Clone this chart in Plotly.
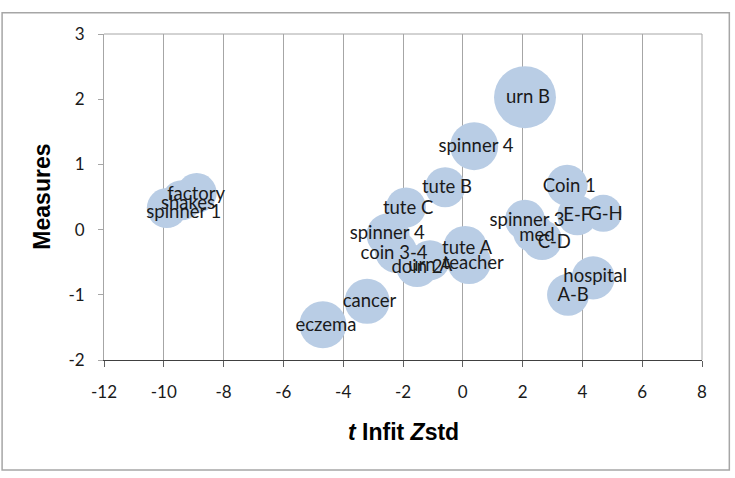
import plotly.graph_objects as go

# Item labels
items = ["spinner 1", "shakes", "factory", "eczema", "cancer", "spinner 4",
         "tute C", "coin 3-4", "doin 2", "urn A", "tute B", "tute A", "teacher",
         "spinner 4", "urn B", "spinner 3", "med", "C-D", "Coin 1", "E-F",
         "G-H", "hospital", "A-B"]
# t Infit Zstd
infit_z = [-9.90, -9.40, -8.90, -4.68, -3.20, -2.50, -1.90, -2.23, -1.53, -1.10,
           -0.59, 0.08, 0.21, 0.38, 2.08, 2.08, 2.35, 2.65, 3.49, 3.83, 4.70,
           4.36, 3.52]
# Measures
measures = [0.33, 0.45, 0.56, -1.46, -1.10, -0.08, 0.34, -0.34, -0.56, -0.47,
            0.65, -0.28, -0.50, 1.28, 2.03, 0.15, -0.04, -0.16, 0.68, 0.22,
            0.25, -0.74, -1.00]
# bubble size variable
bubble = [1.0, 1.0, 1.0, 1.38, 1.27, 1.16, 1.0, 1.1, 1.1, 1.0, 1.0, 1.2, 1.2,
          1.44, 2.4, 1.0, 1.0, 1.0, 1.05, 1.0, 0.86, 1.16, 1.1]
# data label anchor positions (as placed in the chart)
label_x = [-9.33, -9.19, -8.92, -4.58, -3.12, -2.53, -1.83, -2.30, -1.53, -1.09,
           -0.53, 0.14, 0.35, 0.44, 2.18, 2.15, 2.48, 3.06, 3.56, 3.83, 4.77,
           4.43, 3.69]
label_y = [0.25, 0.39, 0.53, -1.49, -1.11, -0.07, 0.31, -0.38, -0.59, -0.56,
           0.63, -0.30, -0.53, 1.26, 2.01, 0.12, -0.10, -0.21, 0.64, 0.21, 0.22,
           -0.74, -1.02]

x_ticks = list(range(-12, 9, 2))
x_ticktext = [str(v) for v in x_ticks]
y_ticks = list(range(-2, 4, 1))
y_ticktext = [str(v) for v in y_ticks]

fig = go.Figure()
fig.add_trace(go.Scatter(
    x=infit_z, y=measures, mode="markers",
    marker=dict(size=bubble, sizemode="area", sizeref=1 / 800,
                color="#B9CDE5", opacity=1, line=dict(width=0)),
    hoverinfo="skip", showlegend=False))
fig.add_trace(go.Scatter(
    x=label_x, y=label_y, mode="text", text=items,
    textposition="middle center",
    textfont=dict(family="Lato", size=18.5, color="#1a1a1a"),
    hoverinfo="skip", showlegend=False))

fig.update_layout(
    width=735, height=478,
    margin=dict(l=104, r=33, t=34, b=118),
    paper_bgcolor="white", plot_bgcolor="white",
    xaxis=dict(range=[-12, 8], tickvals=x_ticks, ticktext=x_ticktext,
               showgrid=True, gridcolor="#A6A6A6", gridwidth=1, zeroline=False,
               showline=True, linecolor="#404040", linewidth=1,
               ticks="outside", ticklen=6, tickcolor="#606060",
               ticklabelstandoff=11,
               tickfont=dict(family="Lato", size=17, color="#1a1a1a")),
    yaxis=dict(range=[-2, 3], tickvals=y_ticks, ticktext=y_ticktext,
               showgrid=False,
               zeroline=False, showline=True, linecolor="#A6A6A6",
               linewidth=1, ticks="outside", ticklen=5, tickcolor="#A6A6A6",
               ticklabelstandoff=10,
               tickfont=dict(family="Lato", size=17, color="#1a1a1a")),
    shapes=[
        dict(type="line", xref="paper", yref="paper", x0=0, x1=1, y0=1, y1=1,
             line=dict(color="#A6A6A6", width=1)),
        dict(type="line", xref="paper", yref="paper", x0=1, x1=1, y0=0, y1=1,
             line=dict(color="#A6A6A6", width=1)),
        dict(type="rect", xref="paper", yref="paper", x0=-0.1704, x1=1.0457,
             y0=-0.3371, y1=1.0650, line=dict(color="#A6A6A6", width=1.5)),
    ],
    annotations=[
        dict(text="<b>Measures</b>", xref="paper", yref="paper", x=-0.1043,
             y=0.5, xanchor="center", yanchor="middle", textangle=-90,
             showarrow=False,
             font=dict(family="Liberation Sans", size=23, color="#000")),
        dict(text="<b><i>t</i> Infit <i>Z</i>std</b>", xref="paper",
             yref="paper", x=0.5, y=-0.2207, xanchor="center",
             yanchor="middle", showarrow=False,
             font=dict(family="Liberation Sans", size=23, color="#000")),
    ],
)

fig.write_html("out.html")
